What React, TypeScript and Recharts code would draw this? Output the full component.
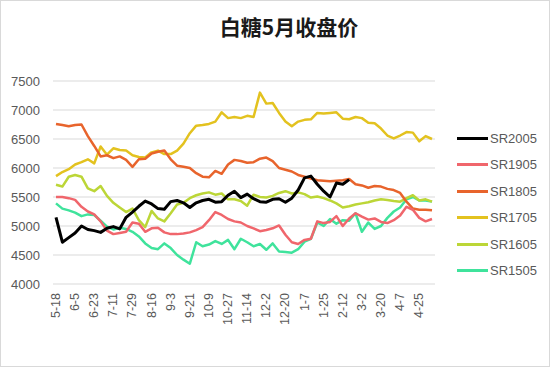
import React from "react";
import { CartesianGrid, Line, LineChart, XAxis, YAxis } from "recharts";

const AXIS = "#595959";
const GRID = "#d9d9d9";

// trading dates, one every 6 days
const dates = [
  "5-18", "5-24", "5-30", "6-5", "6-11", "6-17", "6-23", "6-29", "7-5", "7-11",
  "7-17", "7-23", "7-29", "8-4", "8-10", "8-16", "8-22", "8-28", "9-3", "9-9",
  "9-15", "9-21", "9-27", "10-3", "10-9", "10-15", "10-21", "10-27", "11-2", "11-8",
  "11-14", "11-20", "11-26", "12-2", "12-8", "12-14", "12-20", "12-26", "1-1", "1-7",
  "1-13", "1-19", "1-25", "1-31", "2-6", "2-12", "2-18", "2-24", "3-2", "3-8",
  "3-14", "3-20", "3-26", "4-1", "4-7", "4-13", "4-19", "4-25", "5-1", "5-7",
];

const sr2005 = [
  5150, 4720, 4800, 4880, 5000, 4940, 4920, 4890, 4960, 4990,
  4950, 5150, 5240, 5340, 5430, 5380, 5300, 5290, 5420, 5440,
  5400, 5320, 5400, 5440, 5460, 5410, 5420, 5530, 5600, 5490,
  5550, 5470, 5420, 5410, 5460, 5470, 5410, 5480, 5620, 5830,
  5860, 5720, 5600, 5500, 5740, 5720, 5800,
];

const sr1905 = [
  5500, 5500, 5480, 5450, 5330, 5250, 5200, 5080, 4920, 4860,
  4880, 4900, 5060, 5040, 4900, 4960, 4970, 4890, 4860, 4860,
  4870, 4890, 4930, 4980, 5100, 5240, 5190, 5120, 5080, 5060,
  5000, 4960, 4910, 4930, 4960, 5010, 4850, 4720, 4690, 4760,
  4780, 5080, 5050, 5070, 5170, 5000, 5130, 5220, 5160, 5110,
  5130, 5070, 5050, 5100, 5180, 5330, 5280, 5140, 5080, 5120,
];

const sr1805 = [
  6760, 6740, 6720, 6740, 6750, 6550, 6380, 6200, 6220, 6170,
  6200, 6140, 6020, 6150, 6160, 6250, 6280, 6300, 6150, 6040,
  6020, 6000, 5910, 5850, 5840, 5950, 5900, 6060, 6140, 6120,
  6090, 6100, 6160, 6180, 6120, 6000, 5970, 5940, 5880, 5850,
  5820, 5790, 5780, 5770, 5780, 5790, 5810, 5720, 5700, 5660,
  5690, 5680, 5640, 5620, 5570, 5420, 5300, 5280, 5280, 5270,
];

const sr1705 = [
  5860, 5930, 5980, 6060, 6100, 6150, 6080, 6370, 6230, 6340,
  6310, 6300, 6220, 6190, 6180, 6270, 6300, 6240, 6240, 6300,
  6420, 6600, 6730, 6740, 6760, 6800, 6960, 6860, 6880, 6860,
  6900, 6880, 7300, 7110, 7120, 6950, 6800, 6720, 6800, 6830,
  6840, 6950, 6940, 6950, 6960, 6850, 6840, 6880, 6860, 6780,
  6770, 6680, 6560, 6510, 6560, 6620, 6610, 6460, 6550, 6500,
];

const sr1605 = [
  5710, 5680, 5850, 5880, 5850, 5650, 5600, 5690, 5520, 5400,
  5320, 5240, 5300, 5100, 4980, 5260, 5130, 5080, 5220, 5370,
  5400, 5480, 5530, 5560, 5580, 5540, 5560, 5460, 5460, 5430,
  5350, 5540, 5500, 5490, 5520, 5570, 5600, 5560, 5580, 5550,
  5490, 5510, 5480, 5440, 5390, 5320, 5340, 5370, 5390, 5410,
  5440, 5460, 5450, 5430, 5420, 5480, 5530, 5440, 5460, 5420,
];

const sr1505 = [
  5390, 5300, 5270, 5230, 5170, 5200, 5190, 5090, 4990, 4940,
  4970, 4950, 4900, 4820, 4700, 4620, 4600, 4700, 4620, 4500,
  4420, 4350, 4720, 4650, 4680, 4740, 4690, 4760, 4600, 4780,
  4720, 4650, 4690, 4590, 4700, 4560, 4550, 4540, 4600, 4730,
  4780, 5060, 5000, 5120, 5040, 5100, 5090, 5220, 4900, 5060,
  4950, 5000, 5140, 5250, 5320, 5460, 5500, 5440, 5440, 5420,
];

const yTicks = [4000, 4500, 5000, 5500, 6000, 6500, 7000, 7500];

const series = [
  { name: "SR2005", color: "#000000", width: 3, values: sr2005 },
  { name: "SR1905", color: "#f0666c", width: 2.5, values: sr1905 },
  { name: "SR1805", color: "#e8642c", width: 2.5, values: sr1805 },
  { name: "SR1705", color: "#e3c21f", width: 2.5, values: sr1705 },
  { name: "SR1605", color: "#bcd637", width: 2.5, values: sr1605 },
  { name: "SR1505", color: "#3fe39c", width: 2.5, values: sr1505 },
];

const data = dates.map((date, i) => {
  const row: Record<string, string | number | null> = { date };
  series.forEach((s) => {
    row[s.name] = s.values[i] ?? null;
  });
  return row;
});

const FONT = "Liberation Sans, Arial, sans-serif";

function DateTick({ x, y, payload }: any) {
  return (
    <text
      x={x}
      y={y}
      transform={`rotate(-90 ${x} ${y})`}
      textAnchor="end"
      dominantBaseline="central"
      fill={AXIS}
      fontSize={12.5}
      fontFamily={FONT}
    >
      {payload.value}
    </text>
  );
}

function SeriesLegend() {
  return (
    <div style={{ position: "absolute", left: 456, top: 124, fontFamily: FONT, fontSize: 13, color: AXIS }}>
      {series.map((s) => (
        <div key={s.name} style={{ display: "flex", alignItems: "center", height: 26.5 }}>
          <div style={{ width: 31, height: 3, background: s.color, marginRight: 2 }} />
          <span>{s.name}</span>
        </div>
      ))}
    </div>
  );
}

export default function App() {
  return (
    <div
      style={{
        position: "absolute",
        left: 0,
        top: 0,
        width: 550,
        height: 367,
        background: "#fff",
        border: "1px solid #d9d9d9",
        boxSizing: "border-box",
      }}
    >
      <div
        style={{
          position: "absolute",
          left: 188,
          top: 13,
          width: 200,
          textAlign: "center",
          fontFamily: "Noto Sans CJK SC, sans-serif",
          fontWeight: 700,
          fontSize: 21,
          lineHeight: "24px",
          color: "#1a1a1a",
        }}
      >
        白糖5月收盘价
      </div>
      <div style={{ position: "absolute", left: -1, top: -1 }}>
        <LineChart width={550} height={367} data={data} margin={{ top: 81, right: 115, bottom: 53, left: 0 }}>
          <CartesianGrid stroke={GRID} vertical={false} />
          <XAxis
            dataKey="date"
            interval={2}
            axisLine={false}
            tickLine={false}
            tickSize={0}
            tickMargin={9}
            padding={{ left: 3, right: 3 }}
            tick={<DateTick />}
          />
          <YAxis
            width={53}
            domain={[4000, 7500]}
            ticks={yTicks}
            axisLine={false}
            tickLine={false}
            tickSize={0}
            tickMargin={13}
            tick={{ fill: AXIS, fontSize: 13, fontFamily: FONT }}
          />
          {[...series].reverse().map((s) => (
            <Line
              key={s.name}
              type="linear"
              dataKey={s.name}
              stroke={s.color}
              strokeWidth={s.width}
              strokeLinejoin="round"
              dot={false}
              isAnimationActive={false}
            />
          ))}
        </LineChart>
      </div>
      <SeriesLegend />
    </div>
  );
}
